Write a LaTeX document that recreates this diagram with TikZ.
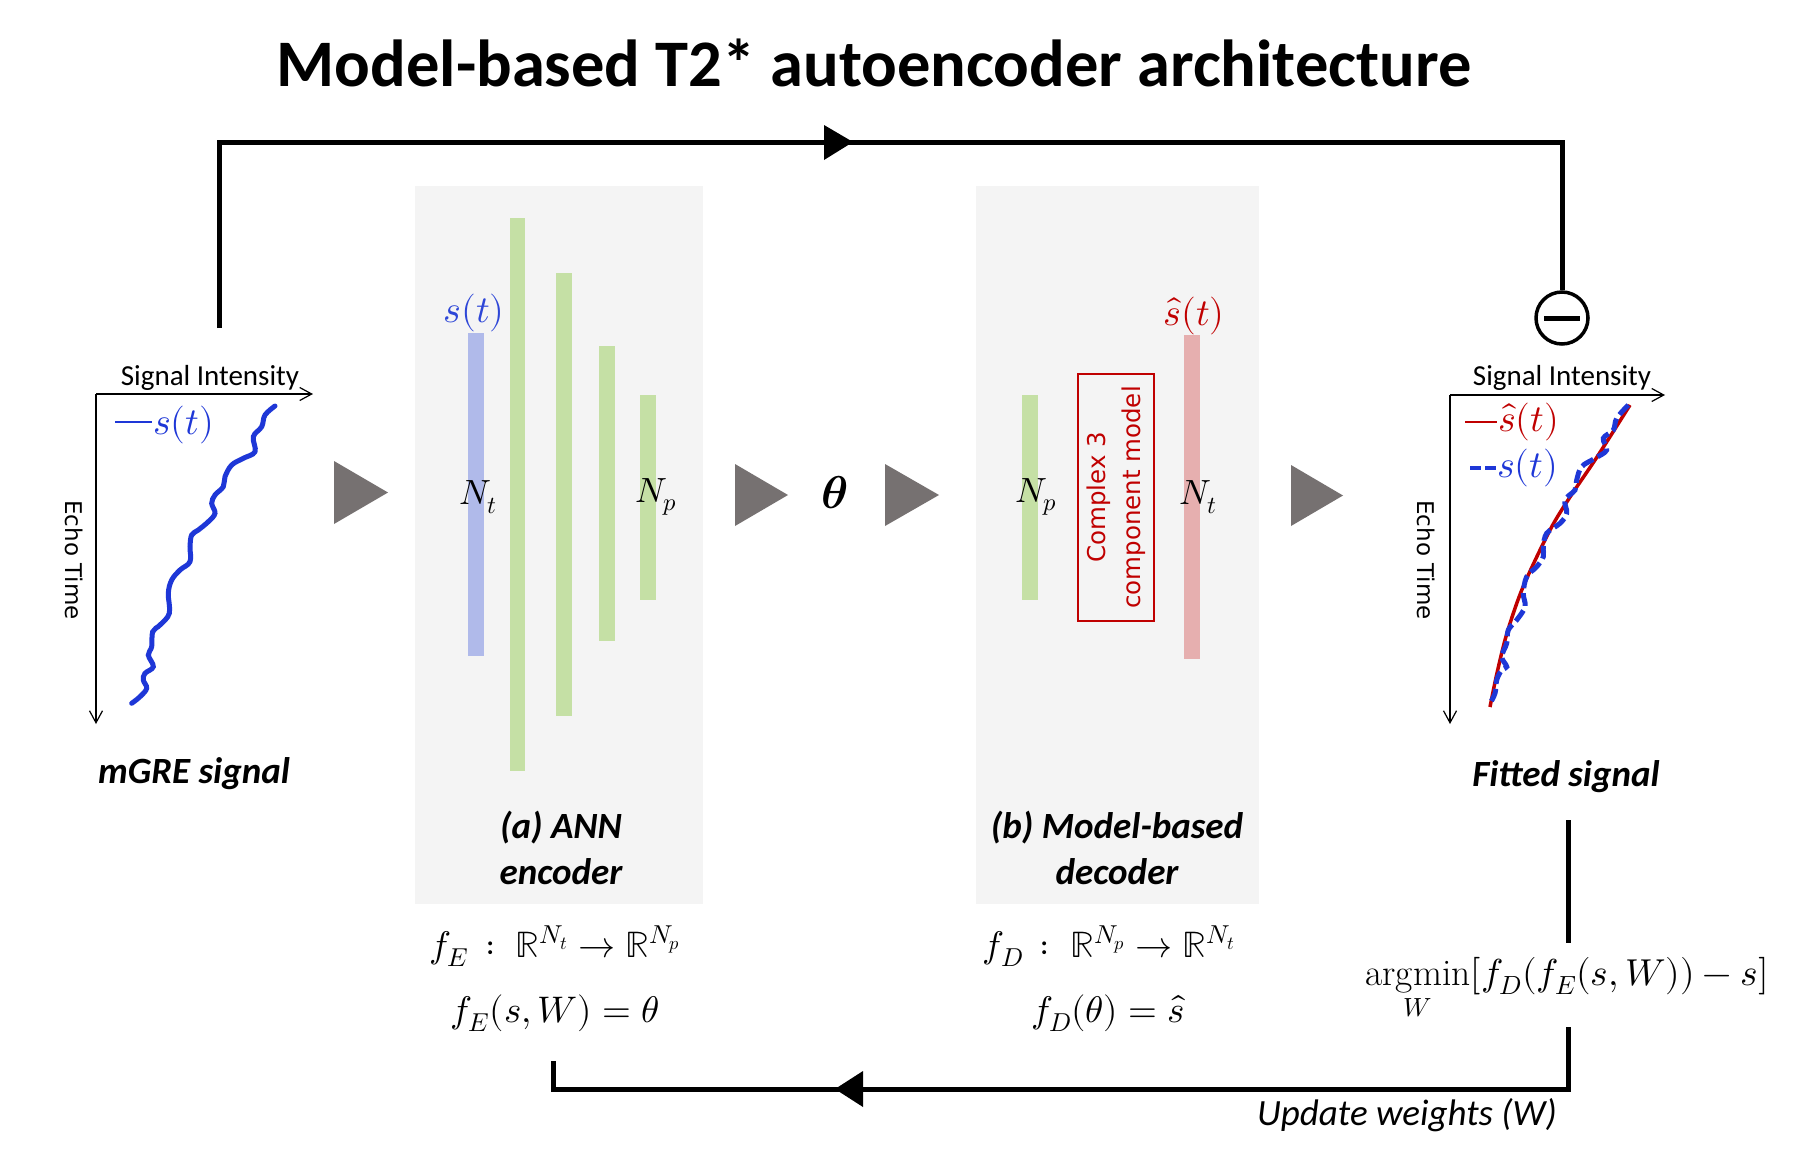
\documentclass[tikz,border=0pt]{standalone}
\usepackage{amsmath}
\usepackage{fontspec}
\usepackage{unicode-math}
\setmainfont{Carlito}
\setmathfont{Latin Modern Math}
\setmathrm{Latin Modern Roman}
\newfontfamily\dejavu{DejaVu Sans}
\usetikzlibrary{arrows.meta}
\definecolor{panelgray}{RGB}{244,244,244}
\definecolor{bargreen}{RGB}{197,224,165}
\definecolor{barblue}{RGB}{176,186,234}
\definecolor{barred}{RGB}{230,175,175}
\definecolor{trigray}{RGB}{118,113,113}
\definecolor{sigblue}{RGB}{30,55,215}
\definecolor{lblblue}{RGB}{45,70,215}
\definecolor{darkred}{RGB}{192,0,0}
\newcommand\fsz[2]{\fontsize{#1}{#2}\selectfont}
\tikzset{
  flow/.style={line width=5pt, black},
  axisline/.style={line width=1.2pt, -{Straight Barb[length=12pt,width=13pt,line width=1.2pt]}},
  lbl/.style={inner sep=0pt, outer sep=0pt},
  mathlbl/.style={lbl, font=\fsz{35}{40}},
  siglbl/.style={lbl, font=\fsz{38}{44}},
  fmlbl/.style={lbl, font=\fsz{37}{44}, anchor=base},
  boldlbl/.style={lbl, font=\fsz{37}{46}\bfseries\itshape, anchor=base},
  axislbl/.style={lbl, font=\fsz{29}{34}, anchor=base},
  echolbl/.style={lbl, font=\dejavu\fsz{23}{28}, rotate=-90},
  tri/.style={fill=trigray},
}
\begin{document}
\begin{tikzpicture}[x=1pt,y=-1pt]
\useasboundingbox (0,0) rectangle (1797,1157);
\fill[white] (0,0) rectangle (1797,1157);

% title
\node[lbl, anchor=base, font=\fsz{66.5}{80}\bfseries] (title) at (874,86) {Model-based T2* autoencoder architecture};

% panels
\fill[panelgray] (415,186) rectangle (703,904);
\fill[panelgray] (976,186) rectangle (1259,904);

% encoder bars
\fill[barblue] (468,333) rectangle (484,656);
\fill[bargreen] (510,218) rectangle (525,771);
\fill[bargreen] (556,273) rectangle (572,716);
\fill[bargreen] (599,346) rectangle (615,641);
\fill[bargreen] (640,395) rectangle (656,600);

% decoder bars
\fill[bargreen] (1022,395) rectangle (1038,600);
\fill[barred] (1184,335) rectangle (1200,659);
\node[draw=darkred, line width=2pt, minimum width=76pt, minimum height=247pt, inner sep=0pt] (cbox) at (1116,497.5) {};
\node[lbl, rotate=90, align=center, text=darkred, font=\dejavu\fsz{24.5}{35}] (cmodel) at (cbox.center) {Complex 3\\component model};

% labels on bars
\node[siglbl, text=lblblue] (st1) at (474,313) {$s(t)$};
\node[mathlbl] (nt1) at (478,497) {$N_t$};
\node[mathlbl] (np1) at (656,497) {$N_p$};
\node[mathlbl] (np2) at (1036,497) {$N_p$};
\node[mathlbl] (nt2) at (1198,497) {$N_t$};
\node[siglbl, text=darkred] (sh1) at (1194,316) {$\hat{s}(t)$};
\node[lbl, font=\fsz{46}{50}] (theta) at (835,493) {$\symbfit{\theta}$};

% gray triangles
\fill[tri] (334,461) -- (388,492.5) -- (334,524) -- cycle;
\fill[tri] (735,464) -- (788,495) -- (735,526) -- cycle;
\fill[tri] (885,464) -- (939,495) -- (885,526) -- cycle;
\fill[tri] (1291,465) -- (1343,495.5) -- (1291,526) -- cycle;

% panel captions
\node[boldlbl] (capa1) at (561,838) {(a) ANN};
\node[boldlbl] (capa2) at (561,884) {encoder};
\node[boldlbl] (capb1) at (1117,838) {(b) Model-based};
\node[boldlbl] (capb2) at (1117,884) {decoder};

% formulas
\node[fmlbl] (fe1) at (555,957) {$f_E\,:\;\mathbb{R}^{N_t}\to\mathbb{R}^{N_p}$};
\node[fmlbl] (fe2) at (555,1022) {$f_E(s,W)=\theta$};
\node[fmlbl] (fd1) at (1109,957) {$f_D\,:\;\mathbb{R}^{N_p}\to\mathbb{R}^{N_t}$};
\node[fmlbl] (fd2) at (1108,1022) {$f_D(\theta)=\hat{s}$};

% left chart
\draw[axisline] (96,394) -- (313,394);
\draw[axisline] (96,394) -- (96,724);
\node[axislbl] (si1) at (210,385) {Signal Intensity};
\node[echolbl] (et1) at (74,560) {Echo Time};
\draw[sigblue, line width=2.5pt] (115,422) -- (152,422);
\node[siglbl, text=sigblue, anchor=west] (lg1) at (153,425) {$s(t)$};
\draw[sigblue, line width=5pt, line cap=round] plot[smooth, tension=0.6] coordinates {
 (275,406) (265,415) (261.7,426.7) (253.3,436.7) (255,451.7) (243.3,458.3) (231.7,465)
 (225,476.7) (223.3,486.7) (215,495) (211.7,503.3) (215,513.3) (208.3,521.7) (198.3,530)
 (191.7,535) (190,546.7) (190,561.7) (180,570) (171.7,580) (168.3,593.3) (169.3,613.3)
 (160,625) (152.7,631.7) (151.7,646.7) (148.3,655) (153.3,666.7) (145,673.3) (143.3,680)
 (146.7,688.3) (140,696.7) (131.7,703.3)};
\node[boldlbl] (mgre) at (194,783) {mGRE signal};
\coordinate (mgtop) at (219,328);

% right chart
\draw[axisline] (1450,395) -- (1665,395);
\draw[axisline] (1450,395) -- (1450,724);
\node[axislbl] (si2) at (1562,385) {Signal Intensity};
\node[echolbl] (et2) at (1426,560) {Echo Time};
\draw[darkred, line width=2.5pt] (1465,422) -- (1497,422);
\node[siglbl, text=darkred, anchor=west] (lg2) at (1498,422) {$\hat{s}(t)$};
\draw[sigblue, line width=4pt] (1470,468) -- (1481,468) (1485,468) -- (1496,468);
\node[siglbl, text=sigblue, anchor=west] (lg3) at (1497,468) {$s(t)$};
\draw[darkred, line width=3.5pt] plot[smooth] coordinates {
 (1630,405) (1597,457) (1570,497) (1550,530) (1523,587) (1507,633) (1497,673) (1490,707)};
\draw[sigblue, line width=5pt, dash pattern=on 13pt off 5pt] plot[smooth, tension=0.6] coordinates {
 (1628.3,405) (1616.7,418.3) (1613.3,430) (1603.3,438.3) (1606.7,450) (1595,458.3)
 (1581.7,466.7) (1576.7,480) (1575,490) (1565,500) (1566.7,513.3) (1560,523.3)
 (1546.7,533.3) (1543.3,546.7) (1543.3,556.7) (1536.7,566.7) (1526.7,576.7)
 (1523.3,593.3) (1525,606.7) (1516.7,620) (1508.3,630) (1506.7,643.3) (1501.7,656.7)
 (1506.7,666.7) (1501.7,670) (1496.7,680) (1495,693.3) (1490,703.3)};
\node[boldlbl] (fitted) at (1566,786) {Fitted signal};

% minus junction
\node[circle, draw, line width=3.5pt, minimum size=52pt, inner sep=0pt] (minus) at (1562,318) {};
\draw[line width=5pt] ([xshift=-18pt]minus.center) -- ([xshift=18pt]minus.center);

% top feedback path
\coordinate (topR) at (1562,142);
\draw[flow] (mgtop) |- (topR) -- (minus.north);
\fill (824,125) -- (853,142) -- (824,160) -- cycle;

% loss
\node[lbl, anchor=base, font=\fsz{37.5}{42}] (argmin) at (1567,985) {$\displaystyle\operatorname*{argmin}_{W}[f_D(f_E(s,W))-s]$};
\coordinate (fitbot) at (1568,820);
\coordinate (argtop) at (1568,943);
\coordinate (argbot) at (1568,1027);
\coordinate (br) at (1568,1089);
\coordinate (bl) at (553,1089);
\coordinate (encbot) at (553,1061);
\draw[flow] (fitbot) -- (argtop);
\draw[flow] (argbot) -- (br) -- (bl) -- (encbot);
\fill (863,1071) -- (835,1089) -- (863,1107) -- cycle;
\node[lbl, anchor=base, font=\fsz{37}{42}\itshape] (upd) at (1407,1125) {Update weights (W)};
\end{tikzpicture}
\end{document}
